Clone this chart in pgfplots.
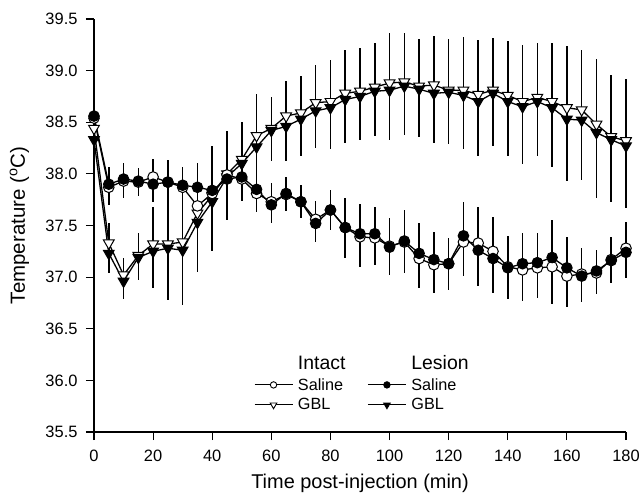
\documentclass[border=0pt]{standalone}
\usepackage{pgfplots}
\pgfplotsset{compat=1.18}
\usepackage{pgfplotstable}
\usepackage{fontspec}
\setmainfont{Liberation Sans}

\pgfplotstableread{
t   is    ise   ig    ige   ls    lse   lg    lge
0   38.54 0.05  38.44 0.05  38.56 0.05  38.33 0.05
5   37.87 0.17  37.33 0.19  37.90 0.17  37.23 0.19
10  37.93 0.16  37.02 0.17  37.95 0.16  36.96 0.17
15  37.92 0.13  37.21 0.22  37.93 0.13  37.19 0.22
20  37.97 0.17  37.32 0.36  37.90 0.17  37.25 0.36
25  37.92 0.21  37.32 0.50  37.92 0.21  37.28 0.50
30  37.87 0.18  37.34 0.53  37.89 0.18  37.26 0.53
35  37.69 0.24  37.62 0.48  37.87 0.24  37.53 0.48
40  37.81 0.20  37.79 0.48  37.84 0.20  37.73 0.48
45  37.99 0.15  38.00 0.42  37.95 0.15  37.97 0.42
50  37.95 0.15  38.14 0.36  37.97 0.15  38.10 0.36
55  37.81 0.18  38.37 0.40  37.85 0.18  38.26 0.40
60  37.73 0.18  38.44 0.30  37.70 0.18  38.42 0.30
65  37.80 0.16  38.56 0.34  37.81 0.16  38.46 0.34
70  37.73 0.16  38.59 0.36  37.73 0.16  38.53 0.36
75  37.56 0.18  38.69 0.36  37.52 0.18  38.61 0.36
80  37.65 0.19  38.70 0.40  37.65 0.19  38.64 0.40
85  37.48 0.29  38.78 0.42  37.48 0.29  38.72 0.42
90  37.39 0.29  38.80 0.42  37.42 0.29  38.75 0.42
95  37.38 0.26  38.84 0.43  37.42 0.26  38.80 0.43
100 37.30 0.27  38.88 0.48  37.29 0.27  38.81 0.48
105 37.34 0.30  38.89 0.47  37.35 0.30  38.85 0.47
110 37.18 0.29  38.85 0.46  37.23 0.29  38.82 0.46
115 37.12 0.27  38.86 0.48  37.17 0.27  38.78 0.48
120 37.13 0.25  38.81 0.50  37.13 0.25  38.79 0.50
125 37.34 0.33  38.81 0.52  37.40 0.33  38.76 0.52
130 37.33 0.35  38.77 0.53  37.26 0.35  38.70 0.53
135 37.25 0.33  38.81 0.51  37.18 0.33  38.78 0.51
140 37.10 0.30  38.76 0.53  37.09 0.30  38.70 0.53
145 37.07 0.30  38.70 0.55  37.13 0.30  38.65 0.55
150 37.09 0.29  38.74 0.53  37.14 0.29  38.70 0.53
155 37.10 0.36  38.70 0.57  37.19 0.36  38.64 0.57
160 37.01 0.30  38.64 0.60  37.09 0.30  38.53 0.60
165 37.03 0.25  38.62 0.58  37.01 0.25  38.52 0.58
170 37.04 0.20  38.48 0.63  37.06 0.20  38.40 0.63
175 37.17 0.22  38.36 0.60  37.16 0.22  38.33 0.60
180 37.28 0.25  38.32 0.60  37.24 0.25  38.27 0.60
}\data

\begin{document}
\begin{tikzpicture}
\begin{axis}[
  at={(0,0)}, anchor=south west,
  scale only axis, width=532bp, height=413bp,
  xmin=0, xmax=180, ymin=35.5, ymax=39.5,
  axis x line*=bottom, axis y line*=left,
  xtick={0,20,40,60,80,100,120,140,160,180},
  ytick={35.5,36.0,36.5,37.0,37.5,38.0,38.5,39.0,39.5},
  /pgf/number format/assume math mode=true,
  tick align=outside, major tick length=8bp,
  tick style={line width=1.2pt, black},
  axis line style={line width=1.2pt},
  ticklabel style={font=\fontsize{16.5}{19}\selectfont},
  xticklabel style={yshift=-6bp},
  yticklabel style={xshift=-5bp, /pgf/number format/.cd, fixed, fixed zerofill, precision=1},
  xlabel={Time post-injection (min)},
  ylabel={Temperature (\textsuperscript{o}C)},
  every axis x label/.style={at={(axis description cs:0.5,-0.125)}, anchor=center,
    font=\fontsize{20}{23}\selectfont},
  every axis y label/.style={at={(axis description cs:-0.14,0.5)}, rotate=90, anchor=center,
    font=\fontsize{20.5}{23}\selectfont},
  clip=false,
  legend columns=2,
  legend cell align=left,
  legend image code/.code={\draw[mark repeat=2,mark phase=2] plot coordinates {(0bp,0bp)(19bp,0bp)(38bp,0bp)};},
  legend style={draw=none, fill=none, at={(axis cs:54.1,36.26)}, anchor=north west,
    font=\fontsize{16.3}{19}\selectfont, inner sep=0pt, row sep=3bp,
    /tikz/every odd column/.append style={column sep=3bp},
    /tikz/every even column/.append style={column sep=20bp}},
  error bars/error bar style={line width=1.5pt, black},
]
% Intact GBL
\addplot[forget plot, black, line width=1.3pt, mark=triangle*, mark size=6.2bp,
  mark options={rotate=180, fill=white, line width=1pt, solid},
  error bars/.cd, y dir=both, y explicit, error mark=none]
  table[x=t, y=ig, y error=ige]{\data};
% Lesion GBL
\addplot[forget plot, black, line width=1.3pt, mark=triangle*, mark size=6.2bp,
  mark options={rotate=180, fill=black, line width=1pt, solid},
  error bars/.cd, y dir=both, y explicit, error mark=none]
  table[x=t, y=lg, y error=lge]{\data};
% Intact saline
\addplot[forget plot, black, line width=1.3pt, mark=*, mark size=5.3bp,
  mark options={fill=white, line width=1pt, solid},
  error bars/.cd, y dir=both, y explicit, error mark=none]
  table[x=t, y=is, y error=ise]{\data};
% Lesion saline
\addplot[forget plot, black, line width=1.3pt, mark=*, mark size=5.3bp,
  mark options={fill=black, line width=1pt, solid},
  error bars/.cd, y dir=both, y explicit, error mark=none]
  table[x=t, y=ls, y error=lse]{\data};

\addlegendimage{empty legend}\addlegendentry{\fontsize{19.5}{22}\selectfont Intact}
\addlegendimage{empty legend}\addlegendentry{\fontsize{19.5}{22}\selectfont Lesion}
\addlegendimage{black, line width=0.9pt, mark=*, mark size=3.2bp, mark options={fill=white}}\addlegendentry{Saline}
\addlegendimage{black, line width=0.9pt, mark=*, mark size=3.2bp, mark options={fill=black}}\addlegendentry{Saline}
\addlegendimage{black, line width=0.9pt, mark=triangle*, mark size=3.8bp, mark options={rotate=180, fill=white}}\addlegendentry{GBL}
\addlegendimage{black, line width=0.9pt, mark=triangle*, mark size=3.8bp, mark options={rotate=180, fill=black}}\addlegendentry{GBL}
\end{axis}
\pgfresetboundingbox
\path[use as bounding box] (-94bp,-64bp) rectangle (550bp,432bp);
\end{tikzpicture}
\end{document}
